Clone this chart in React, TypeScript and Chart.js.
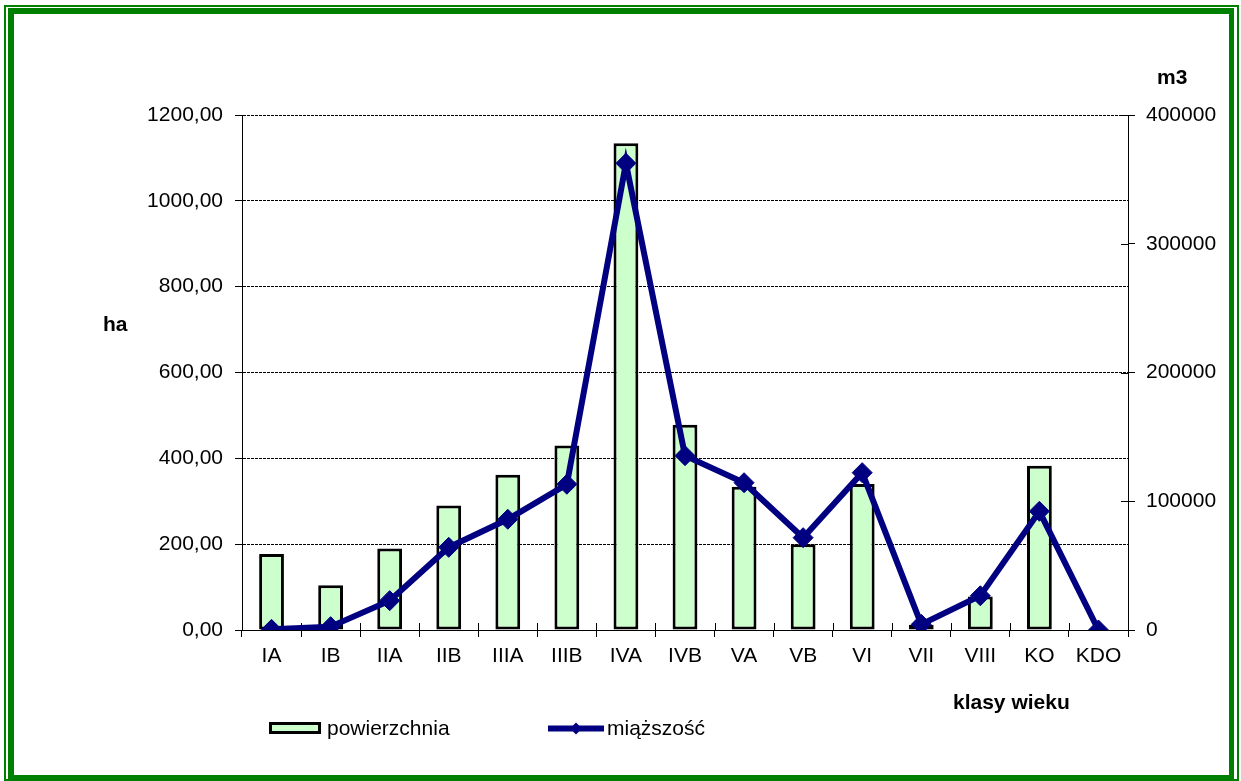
import React, { useEffect, useRef } from "react";
import { Chart, registerables } from "chart.js";

Chart.register(...registerables);

const categories = ["IA", "IB", "IIA", "IIB", "IIIA", "IIIB", "IVA", "IVB", "VA", "VB", "VI", "VII", "VIII", "KO", "KDO"];
const powierzchnia = [177, 104, 190, 290, 362, 430, 1134, 478, 334, 200, 340, 12, 78, 383, 0];
const miazszosc = [500, 2600, 22800, 64200, 86000, 113200, 362500, 135400, 114400, 71700, 122200, 4400, 26600, 92200, 0];
const leftTicks = [0, 200, 400, 600, 800, 1000, 1200];
const rightTicks = [0, 100000, 200000, 300000, 400000];
const seriesLabels = ["powierzchnia", "miąższość"];
const leftTitle = "ha";
const rightTitle = "m3";
const xTitle = "klasy wieku";

const FONT = "Arial, 'Liberation Sans', sans-serif";
const BAR_FILL = "#CCFFCC";
const LINE_COLOR = "#000080";
const GREEN = "#008000";

const extrasPlugin = {
  id: "extras",
  beforeDatasetsDraw(chart: any) {
    const ctx = chart.ctx;
    const x = chart.scales.x;
    const y2 = chart.scales.y2;
    ctx.save();
    ctx.strokeStyle = "#000";
    ctx.lineWidth = 1;
    ctx.beginPath();
    for (let i = 0; i <= categories.length; i++) {
      const px = Math.round(x.getPixelForValue(i - 0.5)) + 0.5;
      ctx.moveTo(px, x.top - 7);
      ctx.lineTo(px, x.top);
    }
    for (const v of rightTicks) {
      const py = Math.round(y2.getPixelForValue(v)) + 0.5;
      ctx.moveTo(y2.left - 7, py);
      ctx.lineTo(y2.left, py);
    }
    ctx.stroke();
    ctx.restore();
  },
  afterDraw(chart: any) {
    const ctx = chart.ctx;
    ctx.save();
    ctx.fillStyle = "#000";
    ctx.textBaseline = "middle";
    ctx.textAlign = "left";
    ctx.font = `bold 21px ${FONT}`;
    ctx.fillText(leftTitle, 103, 325);
    ctx.fillText(rightTitle, 1157, 78);
    ctx.fillText(xTitle, 953, 703);

    // legend
    ctx.fillStyle = BAR_FILL;
    ctx.fillRect(270.5, 723.5, 49, 9);
    ctx.strokeStyle = "#000";
    ctx.lineWidth = 3;
    ctx.strokeRect(270.5, 723.5, 49, 9);
    ctx.font = `21px ${FONT}`;
    ctx.fillStyle = "#000";
    ctx.fillText(seriesLabels[0], 327, 729);

    ctx.strokeStyle = LINE_COLOR;
    ctx.lineWidth = 6;
    ctx.beginPath();
    ctx.moveTo(548, 728.5);
    ctx.lineTo(604, 728.5);
    ctx.stroke();
    ctx.fillStyle = LINE_COLOR;
    ctx.beginPath();
    ctx.moveTo(576 - 6, 728.5);
    ctx.lineTo(576, 728.5 - 6);
    ctx.lineTo(576 + 6, 728.5);
    ctx.lineTo(576, 728.5 + 6);
    ctx.closePath();
    ctx.fill();
    ctx.fillStyle = "#000";
    ctx.fillText(seriesLabels[1], 607, 729);
    ctx.restore();
  },
};

export default function App() {
  const canvasRef = useRef<HTMLCanvasElement | null>(null);

  useEffect(() => {
    document.body.style.margin = "0";
    document.body.style.overflow = "hidden";
    const canvas = canvasRef.current;
    if (!canvas) return;
    Chart.defaults.font.family = FONT;
    Chart.defaults.font.size = 21;
    Chart.defaults.color = "#000";

    const chart = new Chart(canvas, {
      type: "bar",
      data: {
        labels: categories,
        datasets: [
          {
            type: "line",
            label: seriesLabels[1],
            data: miazszosc,
            yAxisID: "y2",
            borderColor: LINE_COLOR,
            backgroundColor: LINE_COLOR,
            borderWidth: 6,
            pointStyle: "rectRot",
            pointRadius: 10,
            pointBorderWidth: 1,
            pointBackgroundColor: LINE_COLOR,
            pointBorderColor: LINE_COLOR,
            tension: 0,
            fill: false,
            order: 0,
          } as any,
          {
            type: "bar",
            label: seriesLabels[0],
            data: powierzchnia,
            yAxisID: "y",
            backgroundColor: BAR_FILL,
            borderColor: "#000",
            borderWidth: 3,
            borderSkipped: false,
            barPercentage: 0.42,
            categoryPercentage: 1,
            order: 1,
          } as any,
        ],
      },
      options: {
        responsive: false,
        animation: false,
        devicePixelRatio: 1,
        layout: { padding: { left: 0, right: 0, top: 115, bottom: 0 } },
        plugins: { legend: { display: false }, tooltip: { enabled: false } },
        scales: {
          x: {
            type: "category",
            offset: true,
            afterFit: (s: any) => {
              s.height = 151;
            },
            grid: {
              offset: true,
              drawOnChartArea: false,
              drawTicks: true,
              tickLength: 7,
              color: "#000",
              tickColor: "#000",
            },
            border: { display: true, color: "#000", width: 1 },
            ticks: { padding: 7, color: "#000", font: { size: 21 }, maxRotation: 0, autoSkip: false },
          },
          y: {
            type: "linear",
            position: "left",
            min: 0,
            max: 1200,
            afterFit: (s: any) => {
              s.width = 242;
            },
            afterBuildTicks: (s: any) => {
              s.ticks = leftTicks.map((v) => ({ value: v }));
            },
            grid: {
              drawOnChartArea: true,
              drawTicks: true,
              tickLength: 7,
              color: "#000",
              lineWidth: 1,
              tickColor: "#000",
              tickBorderDash: [],
            },
            border: { display: true, color: "#000", width: 1, dash: [3, 1] },
            ticks: {
              padding: 12,
              color: "#000",
              font: { size: 21 },
              callback: (v: any) => Number(v).toFixed(2).replace(".", ","),
            },
          },
          y2: {
            type: "linear",
            position: "right",
            min: 0,
            max: 400000,
            afterFit: (s: any) => {
              s.width = 113;
            },
            afterBuildTicks: (s: any) => {
              s.ticks = rightTicks.map((v) => ({ value: v }));
            },
            grid: {
              drawOnChartArea: false,
              drawTicks: true,
              tickLength: 7,
              color: "#000",
              tickColor: "#000",
            },
            border: { display: true, color: "#000", width: 1 },
            ticks: {
              padding: 11,
              color: "#000",
              font: { size: 21 },
              callback: (v: any) => String(v),
            },
          },
        },
      } as any,
      plugins: [extrasPlugin],
    });
    return () => chart.destroy();
  }, []);

  return (
    <div style={{ position: "fixed", left: 0, top: 0, width: 1241, height: 781, background: "#fff", overflow: "hidden" }}>
      <canvas ref={canvasRef} width={1241} height={781} style={{ position: "absolute", left: 0, top: 0, width: 1241, height: 781 }} />
      <div
        style={{
          position: "absolute",
          left: 4,
          top: 5,
          width: 1235,
          height: 776,
          border: `2px solid ${GREEN}`,
          boxSizing: "border-box",
          pointerEvents: "none",
        }}
      />
      <div
        style={{
          position: "absolute",
          left: 8,
          top: 8,
          width: 1226,
          height: 773,
          border: `6px solid ${GREEN}`,
          borderRightWidth: 5,
          boxSizing: "border-box",
          pointerEvents: "none",
        }}
      />
    </div>
  );
}
